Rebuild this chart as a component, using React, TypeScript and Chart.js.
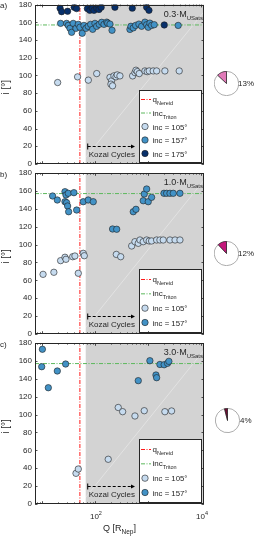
import React, { useEffect, useRef } from 'react';
import { Chart, registerables } from 'chart.js';
Chart.register(...registerables);

const FONT = '"Liberation Sans", Arial, Helvetica, sans-serif';
const INK = '#262626';

// axes
const X_MIN = 7.4;
const X_MAX = 11400;
const Y_MIN = 0;
const Y_MAX = 180;
const X_TICK_VALUES = [100, 10000];
const X_TICK_EXPS = ['2', '4'];

// reference lines / regions
const Q_NEREID = 52;
const INC_TRITON = 157;
const KOZAI_Q_START = 67;
const KOZAI_ARROW_END = 570;
const KOZAI_ARROW_I = 20;
const DIAG_Q = [53, 11400];
const DIAG_I = [0, 172];

// panel labels
const PANEL_LETTERS = ['a)', 'b)', 'c)'];
const MASS_LABELS = ['0.3', '1.0', '3.0'];
const PIE_PCT = [13, 12, 4];
const PIE_COLORS = ['#e07ab8', '#c2187a', '#6e0d35'];

// panel a
const LIGHT_A_Q = [19.8, 47, 75, 108, 192, 206, 200, 215, 228, 249, 263, 296, 514, 568, 594, 628, 684, 877, 969, 1055, 1254, 1457, 2085, 3885];
const LIGHT_A_I = [92, 98.4, 94.7, 102.1, 97.8, 93.9, 90.2, 88.3, 99.5, 98.4, 100.6, 99.5, 99.5, 103.2, 105.9, 104.3, 102.1, 105.1, 104.3, 105.1, 105.1, 105.1, 105.1, 105.1];
const MED_A_Q = [22.5, 29.2, 31.4, 33.8, 36.3, 38.9, 43.9, 48.5, 52.1, 57.6, 62, 67.6, 74.7, 82.9, 90.5, 100, 107.7, 120.5, 134, 148, 167, 174, 192, 210, 457, 477, 528, 585, 675, 759, 877, 945, 1012, 1087, 1172, 1312, 3717];
const MED_A_I = [158.8, 158.8, 156.5, 153.2, 148.7, 158.8, 153.2, 157.7, 154.4, 147.6, 156.5, 153.2, 155.5, 157.7, 152.1, 158.8, 155.5, 157.7, 160, 157.7, 160.2, 159.1, 158, 151, 152, 155.5, 153.7, 156.5, 158, 155.5, 160.2, 157.3, 154.4, 159.1, 156.5, 157.3, 156.5];
const DARK_A_Q = [22, 23.5, 30.5, 40.6, 45, 72, 80, 89, 96, 108, 119, 131, 238, 506, 945, 1045, 2030];
const DARK_A_I = [176, 172, 172.5, 177, 175.5, 175.5, 173.5, 176, 173.5, 176, 174.5, 177, 177, 176, 177, 173.5, 157];

// panel b
const LIGHT_B_Q = [10.5, 16.8, 22.5, 27.2, 28.4, 38, 41.9, 48.5, 60.2, 62.9, 253, 306, 493, 568, 656, 707, 814, 945, 1055, 1172, 1457, 1680, 1938, 2600, 3240, 4010];
const LIGHT_B_I = [66.7, 69, 82, 85.8, 83.5, 86.4, 87.2, 67.9, 90.2, 87.5, 89, 86.4, 98.4, 103.2, 101.4, 105.1, 103.2, 105.1, 104, 104, 105.1, 105.1, 105.1, 105.1, 105.1, 105.1];
const MED_B_Q = [15.9, 19.5, 27.2, 28.4, 31.4, 40.1, 27.2, 29.2, 30.5, 31.9, 45.2, 60.2, 74.7, 92.9, 215, 257, 528, 594, 814, 851, 945, 1012, 1172, 2004, 2250, 2600, 3000, 4010];
const MED_B_I = [154.3, 149.8, 159.1, 155.4, 157.3, 158, 147.9, 146.8, 143.1, 136.7, 138.6, 147.9, 149.8, 147.9, 117.4, 117.1, 136.7, 139.4, 149, 156.5, 162.1, 147.9, 152.8, 157.3, 157.3, 157.3, 157.3, 157.3];

// panel c
const LIGHT_C_Q = [43.9, 48.5, 178, 275, 333, 568, 851, 2085, 2790];
const LIGHT_C_I = [34.3, 39.1, 50, 107.9, 103.2, 98.4, 104.3, 103.2, 104];
const MED_C_Q = [10.2, 9.9, 13.2, 19.5, 28, 656, 1087, 1415, 1457, 1680, 2020, 2340, 2480];
const MED_C_I = [173, 153.5, 130, 148.7, 156.5, 137.9, 160.2, 144.2, 141.2, 156, 155.7, 157.3, 159.5];

const C_LIGHT = '#c6dbef';
const C_MED = '#4292c6';
const C_DARK = '#08306b';
const C_RED = '#ff1a1a';
const C_GREEN = '#5cb85c';
const C_GRAY = '#d3d3d3';

// layout of panels (pixels)
const CANVAS_TOP = [0, 163, 333];
const CANVAS_H = [172, 179, 203];
const PAD_TOP = [3, 10, 10];
const X_AXIS_H = [8, 8, 32];
const PIE_POS = [[214, 71], [214, 241], [215, 408]];
const PCT_POS = [[238, 79], [238, 249], [240, 416]];

const PANEL_DATA = [
  { light: [LIGHT_A_Q, LIGHT_A_I], med: [MED_A_Q, MED_A_I], dark: [DARK_A_Q, DARK_A_I] },
  { light: [LIGHT_B_Q, LIGHT_B_I], med: [MED_B_Q, MED_B_I], dark: null },
  { light: [LIGHT_C_Q, LIGHT_C_I], med: [MED_C_Q, MED_C_I], dark: null },
];

type Part = { t: string; k?: 'sub' | 'sup' };

function rich(ctx: CanvasRenderingContext2D, parts: Part[], x: number, y: number, size: number, align: string, small?: number) {
  const sm = small || size * 0.68;
  const fontOf = (k?: string) => `${k ? sm : size}px ${FONT}`;
  let w = 0;
  for (const p of parts) {
    ctx.font = fontOf(p.k);
    w += ctx.measureText(p.t).width;
  }
  let cx = align === 'right' ? x - w : align === 'center' ? x - w / 2 : x;
  ctx.textAlign = 'left';
  ctx.textBaseline = 'alphabetic';
  for (const p of parts) {
    ctx.font = fontOf(p.k);
    const dy = p.k === 'sub' ? size * 0.38 : p.k === 'sup' ? -size * 0.5 : 0;
    ctx.fillText(p.t, cx, y + dy);
    cx += ctx.measureText(p.t).width;
  }
}

function seg(ctx: CanvasRenderingContext2D, x0: number, y0: number, x1: number, y1: number) {
  ctx.beginPath();
  ctx.moveTo(x0, y0);
  ctx.lineTo(x1, y1);
  ctx.stroke();
}

function marker(ctx: CanvasRenderingContext2D, x: number, y: number, color: string) {
  ctx.beginPath();
  ctx.arc(x, y, 3.2, 0, Math.PI * 2);
  ctx.fillStyle = color;
  ctx.fill();
  ctx.lineWidth = 0.6;
  ctx.strokeStyle = '#1e1e1e';
  ctx.stroke();
}

function makeDecor(p: number) {
  return {
    id: 'decor' + p,
    beforeDatasetsDraw(chart: any) {
      const { ctx, chartArea: ca, scales } = chart;
      const gx = scales.x.getPixelForValue(KOZAI_Q_START);
      ctx.save();
      ctx.fillStyle = C_GRAY;
      ctx.fillRect(gx, ca.top, ca.right - gx, ca.bottom - ca.top);
      ctx.restore();
    },
    afterDatasetsDraw(chart: any) {
      const { ctx, chartArea: ca, scales } = chart;
      const x = scales.x;
      const y = scales.y;
      ctx.save();
      ctx.fillStyle = INK;
      ctx.strokeStyle = INK;

      // Kozai arrow
      const kx0 = x.getPixelForValue(KOZAI_Q_START) + 2;
      const kx1 = x.getPixelForValue(KOZAI_ARROW_END);
      const ky = Math.round(y.getPixelForValue(KOZAI_ARROW_I)) + 0.5;
      ctx.strokeStyle = '#000';
      ctx.lineWidth = 1;
      ctx.setLineDash([3, 2]);
      seg(ctx, kx0, ky, kx1 - 3, ky);
      ctx.setLineDash([]);
      seg(ctx, kx0, ky - 3, kx0, ky + 3);
      ctx.fillStyle = '#000';
      ctx.beginPath();
      ctx.moveTo(kx1, ky);
      ctx.lineTo(kx1 - 4, ky - 2);
      ctx.lineTo(kx1 - 4, ky + 2);
      ctx.closePath();
      ctx.fill();
      ctx.fillStyle = INK;
      rich(ctx, [{ t: 'Kozai Cycles' }], kx0 + 1, ky + 10.5, 8, 'left');

      // legend
      const rows = PANEL_DATA[p].dark ? 5 : 4;
      const bw = 62;
      const bh = rows === 5 ? 72 : 63;
      const bx = Math.round(ca.right - bw - 3) + 0.5;
      const by = Math.round(ca.bottom - bh - 2) + 0.5;
      ctx.fillStyle = '#fff';
      ctx.fillRect(bx, by, bw, bh);
      ctx.strokeStyle = INK;
      ctx.lineWidth = 1;
      ctx.strokeRect(bx, by, bw, bh);
      const margin = rows === 5 ? 9 : 10;
      const step = (bh - 2 * margin) / (rows - 1);
      const rowY = (r: number) => by + margin + r * step;
      // q Nereid
      ctx.lineWidth = 1;
      ctx.setLineDash([4, 1.5, 1, 1.5]);
      ctx.strokeStyle = C_RED;
      seg(ctx, bx + 1.5, rowY(0), bx + 11.5, rowY(0));
      ctx.strokeStyle = C_GREEN;
      seg(ctx, bx + 1.5, rowY(1), bx + 11.5, rowY(1));
      ctx.setLineDash([]);
      ctx.fillStyle = INK;
      rich(ctx, [{ t: 'q' }, { t: 'Nereid', k: 'sub' }], bx + 13, rowY(0) + 2.5, 8, 'left', 5.5);
      rich(ctx, [{ t: 'inc' }, { t: 'Triton', k: 'sub' }], bx + 13, rowY(1) + 2.5, 8, 'left', 5.5);
      const mk = [
        { c: C_LIGHT, t: 'inc = 105°' },
        { c: C_MED, t: 'inc = 157°' },
        { c: C_DARK, t: 'inc = 175°' },
      ];
      for (let r = 2; r < rows; r++) {
        const e = mk[r - 2];
        marker(ctx, bx + 5.5, rowY(r), e.c);
        ctx.fillStyle = INK;
        rich(ctx, [{ t: e.t }], bx + 13, rowY(r) + 3, 7.8, 'left');
      }

      // title
      ctx.fillStyle = INK;
      rich(ctx, [{ t: MASS_LABELS[p] + '·M' }, { t: 'USats', k: 'sub' }], ca.right - 1, ca.top + 12, 9, 'right', 6);

      // ticks
      ctx.strokeStyle = INK;
      ctx.lineWidth = 0.8;
      for (let v = Y_MIN; v <= Y_MAX; v += 20) {
        const py = Math.round(y.getPixelForValue(v)) + 0.5;
        seg(ctx, ca.left, py, ca.left + 2.5, py);
        seg(ctx, ca.right - 2.5, py, ca.right, py);
      }
      for (let e = 0; e <= 4; e++) {
        for (let k = 1; k <= 9; k++) {
          const v = k * Math.pow(10, e);
          if (v < X_MIN || v > X_MAX) continue;
          const px = Math.round(x.getPixelForValue(v)) + 0.5;
          const len = k === 1 ? 2.8 : 1.6;
          seg(ctx, px, ca.bottom, px, ca.bottom - len);
          seg(ctx, px, ca.top, px, ca.top + len);
        }
      }
      // box
      ctx.lineWidth = 1;
      ctx.strokeRect(Math.round(ca.left) + 0.5, Math.round(ca.top) + 0.5, Math.round(ca.right - ca.left) - 1, Math.round(ca.bottom - ca.top) - 1);

      // panel letter
      ctx.fillStyle = INK;
      rich(ctx, [{ t: PANEL_LETTERS[p] }], 0, ca.top + 3.5, 8, 'left');

      // y label
      ctx.save();
      ctx.translate(9, (ca.top + ca.bottom) / 2 + 3);
      ctx.rotate(-Math.PI / 2);
      rich(ctx, [{ t: 'i [°]' }], 0, 0, 10, 'center');
      ctx.restore();

      // x tick labels and title on bottom panel
      if (p === 2) {
        X_TICK_VALUES.forEach((v, i) => {
          const px = x.getPixelForValue(v);
          rich(ctx, [{ t: '10' }, { t: X_TICK_EXPS[i], k: 'sup' }], px + 1, ca.bottom + 15, 8, 'center', 5.5);
        });
        rich(ctx, [{ t: 'Q [R' }, { t: 'Nep', k: 'sub' }, { t: ']' }], (ca.left + ca.right) / 2, ca.bottom + 26.5, 9, 'center', 6.5);
      }
      ctx.restore();
    },
  };
}

function pts(qs: number[], is: number[]) {
  return qs.map((q, k) => ({ x: q, y: is[k] }));
}

function pointSet(label: string, d: number[][], color: string, order: number) {
  return {
    label,
    data: pts(d[0], d[1]),
    showLine: false,
    pointRadius: 3.2,
    pointBackgroundColor: color,
    pointBorderColor: '#1e1e1e',
    pointBorderWidth: 0.6,
    backgroundColor: color,
    borderColor: '#1e1e1e',
    order,
  };
}

function lineSet(label: string, data: any[], color: string, dash: number[], width: number, order: number) {
  return {
    label,
    data,
    showLine: true,
    pointRadius: 0,
    borderColor: color,
    borderWidth: width,
    borderDash: dash,
    fill: false,
    order,
  };
}

function scatterConfig(p: number): any {
  const d = PANEL_DATA[p];
  const datasets: any[] = [];
  if (d.dark) datasets.push(pointSet('inc = 175°', d.dark, C_DARK, 1));
  datasets.push(pointSet('inc = 157°', d.med, C_MED, 2));
  datasets.push(pointSet('inc = 105°', d.light, C_LIGHT, 3));
  datasets.push(lineSet('q Nereid', [{ x: Q_NEREID, y: Y_MIN }, { x: Q_NEREID, y: Y_MAX }], C_RED, [4, 1.5, 1, 1.5], 1, 5));
  datasets.push(lineSet('inc Triton', [{ x: X_MIN, y: INC_TRITON }, { x: X_MAX, y: INC_TRITON }], C_GREEN, [4, 1.5, 1, 1.5], 1, 5));
  datasets.push(lineSet('diag', pts(DIAG_Q, DIAG_I), 'rgba(255,255,255,0.6)', [], 0.6, 6));
  return {
    type: 'scatter',
    data: { datasets },
    options: {
      responsive: false,
      animation: false,
      events: [],
      layout: { padding: { left: 0, right: 53, top: PAD_TOP[p], bottom: 0 } },
      plugins: { legend: { display: false }, tooltip: { enabled: false } },
      scales: {
        x: {
          type: 'logarithmic',
          min: X_MIN,
          max: X_MAX,
          grid: { display: false, drawTicks: false },
          border: { display: false },
          ticks: { display: false },
          afterFit: (s: any) => {
            s.height = X_AXIS_H[p];
            s.paddingLeft = 0;
            s.paddingRight = 0;
          },
        },
        y: {
          type: 'linear',
          min: Y_MIN,
          max: Y_MAX,
          grid: { display: false, drawTicks: false },
          border: { display: false },
          ticks: { stepSize: 20, color: INK, padding: 3, font: { family: FONT, size: 8 } },
          afterFit: (s: any) => {
            s.width = 35;
            s.paddingTop = 0;
            s.paddingBottom = 0;
          },
        },
      },
    },
    plugins: [makeDecor(p)],
  };
}

function pieConfig(p: number): any {
  return {
    type: 'pie',
    data: {
      labels: ['other', 'captured'],
      datasets: [
        {
          data: [100 - PIE_PCT[p], PIE_PCT[p]],
          backgroundColor: ['#ffffff', PIE_COLORS[p]],
          borderColor: ['#8a8a8a', '#1e1e1e'],
          borderWidth: 0.7,
        },
      ],
    },
    options: {
      responsive: false,
      animation: false,
      events: [],
      layout: { padding: 0 },
      plugins: { legend: { display: false }, tooltip: { enabled: false } },
    },
  };
}

export default function App() {
  const s0 = useRef<HTMLCanvasElement>(null);
  const s1 = useRef<HTMLCanvasElement>(null);
  const s2 = useRef<HTMLCanvasElement>(null);
  const p0 = useRef<HTMLCanvasElement>(null);
  const p1 = useRef<HTMLCanvasElement>(null);
  const p2 = useRef<HTMLCanvasElement>(null);
  const sRefs = [s0, s1, s2];
  const pRefs = [p0, p1, p2];

  useEffect(() => {
    const charts: Chart[] = [];
    for (let p = 0; p < 3; p++) {
      charts.push(new Chart(sRefs[p].current as HTMLCanvasElement, scatterConfig(p)));
      charts.push(new Chart(pRefs[p].current as HTMLCanvasElement, pieConfig(p)));
    }
    return () => charts.forEach((c) => c.destroy());
  }, []);

  return (
    <div style={{ position: 'absolute', left: 0, top: 0, width: 257, height: 536, background: '#fff', fontFamily: FONT, overflow: 'hidden' }}>
      {[0, 1, 2].map((p) => (
        <canvas
          key={'s' + p}
          ref={sRefs[p]}
          width={257}
          height={CANVAS_H[p]}
          style={{ position: 'absolute', left: 0, top: CANVAS_TOP[p], width: 257, height: CANVAS_H[p] }}
        />
      ))}
      {[0, 1, 2].map((p) => (
        <canvas
          key={'p' + p}
          ref={pRefs[p]}
          width={25}
          height={25}
          style={{ position: 'absolute', left: PIE_POS[p][0], top: PIE_POS[p][1], width: 25, height: 25 }}
        />
      ))}
      {[0, 1, 2].map((p) => (
        <span
          key={'t' + p}
          style={{ position: 'absolute', left: PCT_POS[p][0], top: PCT_POS[p][1], fontSize: 8, lineHeight: '10px', color: INK, fontFamily: FONT }}
        >
          {PIE_PCT[p] + '%'}
        </span>
      ))}
    </div>
  );
}
